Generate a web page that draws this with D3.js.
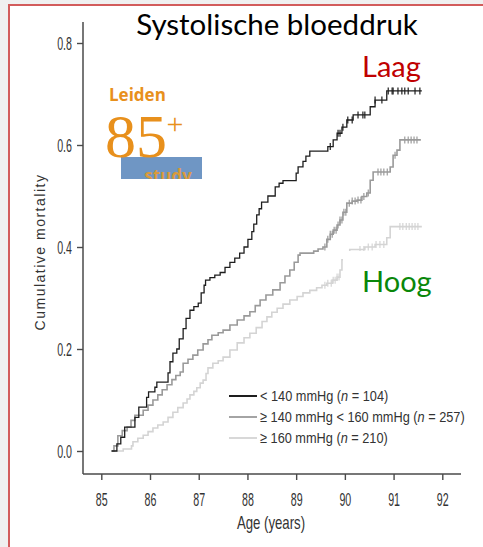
<!DOCTYPE html>
<html>
<head>
<meta charset="utf-8">
<style>
body { margin: 0; background: #f0f0f0; }
svg { display: block; }
.tick text { font-family: "Liberation Sans", Arial, sans-serif; fill: #333; }
</style>
</head>
<body>
<script src="https://d3js.org/d3.v7.min.js"></script>
<script>

// Tick labels
var ageTicks = [85, 86, 87, 88, 89, 90, 91, 92];
var mortTicks = [0, 0.2, 0.4, 0.6, 0.8];

// Kaplan-Meier steps: [age, cumulative mortality]
var lowBP = [
  [85.21, 0], [85.32, 0.014], [85.40, 0.027], [85.48, 0.047], [85.69, 0.066], [85.77, 0.086],
  [85.93, 0.105], [85.97, 0.116], [86.10, 0.125], [86.14, 0.135], [86.37, 0.153], [86.41, 0.175],
  [86.47, 0.192], [86.55, 0.20], [86.60, 0.22], [86.68, 0.24], [86.74, 0.26], [86.82, 0.276],
  [86.90, 0.283], [86.99, 0.29], [87.05, 0.31], [87.11, 0.325], [87.14, 0.335], [87.23, 0.34],
  [87.33, 0.345], [87.44, 0.35], [87.54, 0.36], [87.64, 0.37], [87.74, 0.378], [87.84, 0.388],
  [87.93, 0.40], [88.01, 0.415], [88.09, 0.43], [88.13, 0.445], [88.19, 0.463], [88.24, 0.475],
  [88.29, 0.488], [88.42, 0.50], [88.57, 0.518], [88.65, 0.525], [88.73, 0.53], [89.00, 0.545],
  [89.04, 0.557], [89.14, 0.568], [89.20, 0.578], [89.28, 0.588], [89.65, 0.597], [89.76, 0.61],
  [89.84, 0.623], [89.94, 0.635], [90.04, 0.649], [90.17, 0.659], [90.52, 0.675], [90.62, 0.688],
  [90.86, 0.706], [91.58, 0.706]
];
var midBP = [
  [85.21, 0], [85.26, 0.01], [85.34, 0.03], [85.43, 0.04], [85.53, 0.047], [85.61, 0.06],
  [85.69, 0.07], [85.86, 0.08], [85.96, 0.09], [86.06, 0.10], [86.16, 0.11], [86.25, 0.12],
  [86.35, 0.13], [86.45, 0.14], [86.53, 0.148], [86.62, 0.155], [86.68, 0.172], [86.78, 0.18],
  [86.88, 0.188], [86.98, 0.198], [87.09, 0.21], [87.19, 0.218], [87.27, 0.227], [87.40, 0.232],
  [87.50, 0.237], [87.64, 0.247], [87.79, 0.257], [87.93, 0.265], [88.05, 0.273], [88.16, 0.285],
  [88.26, 0.296], [88.38, 0.306], [88.52, 0.316], [88.67, 0.33], [88.77, 0.343], [88.87, 0.355],
  [88.96, 0.37], [89.04, 0.384], [89.08, 0.388], [89.36, 0.392], [89.45, 0.396], [89.55, 0.40],
  [89.63, 0.415], [89.70, 0.425], [89.76, 0.433], [89.84, 0.443], [89.90, 0.453], [89.96, 0.468],
  [90.04, 0.486], [90.15, 0.49], [90.25, 0.492], [90.35, 0.499], [90.45, 0.506], [90.52, 0.531],
  [90.58, 0.547], [90.93, 0.557], [90.99, 0.58], [91.07, 0.59], [91.13, 0.61], [91.56, 0.61]
];
var highBP = [
  [85.22, 0], [85.45, 0.004], [85.62, 0.01], [85.65, 0.018], [85.75, 0.025], [85.86, 0.031],
  [85.96, 0.038], [86.06, 0.045], [86.16, 0.051], [86.27, 0.057], [86.37, 0.066], [86.47, 0.076],
  [86.57, 0.085], [86.68, 0.094], [86.76, 0.102], [86.82, 0.11], [86.90, 0.117], [86.96, 0.124],
  [87.03, 0.133], [87.09, 0.139], [87.15, 0.152], [87.19, 0.163], [87.29, 0.172], [87.40, 0.177],
  [87.50, 0.184], [87.64, 0.198], [87.79, 0.212], [87.93, 0.222], [88.05, 0.231], [88.18, 0.242],
  [88.30, 0.254], [88.40, 0.263], [88.50, 0.272], [88.61, 0.28], [88.73, 0.288], [88.87, 0.296],
  [89.02, 0.303], [89.14, 0.31], [89.28, 0.315], [89.42, 0.32], [89.53, 0.325], [89.63, 0.329],
  [89.74, 0.335], [89.84, 0.341], [89.90, 0.355], [89.94, 0.375], [90.02, 0.388], [90.10, 0.395],
  [90.41, 0.40], [90.62, 0.405], [90.86, 0.418], [90.93, 0.44], [91.58, 0.44]
];

// censored observations (ages)
var lowCens = [89.70, 89.86, 89.90, 89.96, 90.06, 90.15, 90.27, 90.37, 90.41, 90.62, 90.76,
  90.89, 90.97, 90.99, 91.09, 91.17, 91.23, 91.30, 91.44, 91.54];
var midCens = [89.59, 89.65, 89.70, 89.74, 89.78, 89.82, 89.86, 89.90, 89.94, 89.98, 90.02,
  90.09, 90.15, 90.21, 90.27, 90.33, 90.39, 90.48, 90.68, 90.74, 90.80, 90.87, 91.03, 91.23,
  91.30, 91.36, 91.42, 91.48];
var highCens = [89.59, 89.65, 89.72, 89.76, 89.80, 89.84, 89.88, 90.31, 90.39, 90.48, 90.56,
  90.64, 90.72, 90.80, 91.13, 91.19, 91.26, 91.32, 91.38, 91.44, 91.50];

var series = [
  {name: "< 140 mmHg", n: 104, data: lowBP, cens: lowCens, color: "#1e1e1e", w: 1.3},
  {name: "\u2265 140 mmHg < 160 mmHg", n: 257, data: midBP, cens: midCens, color: "#9a9a9a", w: 1.6},
  {name: "\u2265 160 mmHg", n: 210, data: highBP, cens: highCens, color: "#d4d4d4", w: 1.6}
];

var W = 483, H = 547;
var svg = d3.select("body").append("svg").attr("width", W).attr("height", H);

// slide panel
svg.append("rect").attr("x", 9).attr("y", 5).attr("width", 490).attr("height", 560)
  .attr("fill", "#fff").attr("stroke", "#d25c5c").attr("stroke-width", 2);

var x = d3.scaleLinear().domain([85, 92]).range([101.3, 442.3]);
var y = d3.scaleLinear().domain([0, 0.8]).range([451, 43]);
var axisY0 = 474, axisX0 = 83;

function stretched(parent, px, py, txt, size, sx, sy, anchor) {
  return parent.append("text")
    .attr("transform", "translate(" + px + "," + py + ") scale(" + sx + "," + sy + ")")
    .attr("text-anchor", anchor || "start")
    .style("font-family", '"Liberation Sans", Arial, sans-serif')
    .style("font-size", size + "px")
    .attr("fill", "#333")
    .text(txt);
}

// axes
var gx = svg.append("g").attr("transform", "translate(0," + axisY0 + ")")
  .call(d3.axisBottom(x).tickValues(ageTicks).tickSize(6).tickSizeOuter(0).tickFormat(d3.format("d")));
gx.select(".domain").remove();
gx.selectAll(".tick line").attr("stroke", "#4a4a4a").attr("stroke-width", 1.4);
gx.selectAll(".tick text").attr("y", 0).attr("dy", 0)
  .attr("transform", "translate(0,31.5) scale(0.82,1.4)").style("font-size", "13px");
svg.append("line").attr("x1", axisX0).attr("x2", 461).attr("y1", axisY0).attr("y2", axisY0)
  .attr("stroke", "#4a4a4a").attr("stroke-width", 1.5);

var gy = svg.append("g").attr("transform", "translate(" + axisX0 + ",0)")
  .call(d3.axisLeft(y).tickValues(mortTicks).tickSize(6).tickSizeOuter(0).tickFormat(d3.format(".1f")));
gy.select(".domain").remove();
gy.selectAll(".tick line").attr("stroke", "#4a4a4a").attr("stroke-width", 1.4);
gy.selectAll(".tick text").attr("x", 0).attr("dy", 0)
  .attr("transform", "translate(-11,6.5) scale(0.82,1.4)").style("font-size", "13px");
svg.append("line").attr("x1", axisX0).attr("x2", axisX0).attr("y1", 22).attr("y2", axisY0)
  .attr("stroke", "#4a4a4a").attr("stroke-width", 1.5);

stretched(svg, 271, 529, "Age (years)", 15, 0.88, 1.18, "middle");
svg.append("text")
  .attr("transform", "translate(45,252) rotate(-90)")
  .attr("text-anchor", "middle")
  .style("font-family", '"Liberation Sans", Arial, sans-serif')
  .style("font-size", "14px").style("letter-spacing", "1.5px")
  .attr("fill", "#333").text("Cumulative mortality");

// curves
var line = d3.line().x(function(d) { return x(d[0]); }).y(function(d) { return y(d[1]); })
  .curve(d3.curveStepAfter);
function stepAt(data, t) {
  var v = 0;
  data.forEach(function(d) { if (d[0] <= t) v = d[1]; });
  return v;
}
series.slice().reverse().forEach(function(s) {
  svg.append("path").datum(s.data).attr("d", line).attr("fill", "none")
    .attr("stroke", s.color).attr("stroke-width", s.w);
  svg.selectAll(null).data(s.cens).enter().append("line")
    .attr("x1", function(t) { return x(t); }).attr("x2", function(t) { return x(t); })
    .attr("y1", function(t) { return y(stepAt(s.data, t)) - 3.5; })
    .attr("y2", function(t) { return y(stepAt(s.data, t)) + 3.5; })
    .attr("stroke", s.color).attr("stroke-width", 1.2);
});

// legend
series.forEach(function(s, i) {
  var ly = 396 + i * 21;
  svg.append("line").attr("x1", 229).attr("x2", 257).attr("y1", ly).attr("y2", ly)
    .attr("stroke", s.color).attr("stroke-width", i === 0 ? 2 : 1.8);
  var t = svg.append("text")
    .attr("transform", "translate(260," + (ly + 5) + ") scale(0.88,1.05)")
    .style("font-family", '"Liberation Sans", Arial, sans-serif')
    .style("font-size", "14.5px").attr("fill", "#333");
  t.append("tspan").text(s.name + " (");
  t.append("tspan").style("font-style", "italic").text("n");
  t.append("tspan").text(" = " + s.n + ")");
});

// slide text boxes
svg.append("rect").attr("x", 343).attr("y", 251).attr("width", 100).attr("height", 52).attr("fill", "#fff");
svg.append("text").attr("x", 277).attr("y", 35).attr("text-anchor", "middle")
  .style("font-family", "Lato, 'Open Sans', sans-serif").style("font-size", "29.5px")
  .attr("fill", "#000").text("Systolische bloeddruk");
svg.append("text").attr("x", 362).attr("y", 77)
  .style("font-family", "Lato, 'Open Sans', sans-serif").style("font-size", "29px")
  .attr("fill", "#c00000").text("Laag");
svg.append("text").attr("x", 362).attr("y", 292)
  .style("font-family", "Lato, 'Open Sans', sans-serif").style("font-size", "29px")
  .attr("fill", "#0a870a").text("Hoog");

// Leiden 85+ logo
var orange = "#e8901c";
svg.append("rect").attr("x", 121).attr("y", 157).attr("width", 81).attr("height", 22).attr("fill", "#6f96c4");
svg.append("text").attr("x", 109).attr("y", 101)
  .style("font-family", "'Open Sans', sans-serif").style("font-weight", "bold").style("font-size", "17px")
  .attr("fill", orange).text("Leiden");
svg.append("text").attr("x", 105).attr("y", 157)
  .style("font-family", "'Liberation Serif', serif").style("font-size", "62px")
  .attr("fill", orange).text("85");
svg.append("text").attr("x", 175).attr("y", 134).attr("text-anchor", "middle")
  .style("font-family", "'Liberation Serif', serif").style("font-size", "30px")
  .attr("fill", orange).text("+");
svg.append("clipPath").attr("id", "studyclip").append("rect")
  .attr("x", 121).attr("y", 157).attr("width", 81).attr("height", 22);
svg.append("text").attr("x", 168).attr("y", 182).attr("text-anchor", "middle")
  .attr("clip-path", "url(#studyclip)")
  .style("font-family", "'Open Sans', sans-serif").style("font-weight", "bold").style("font-size", "17px")
  .attr("fill", "#d99a3c").text("study");

</script>
</body>
</html>
